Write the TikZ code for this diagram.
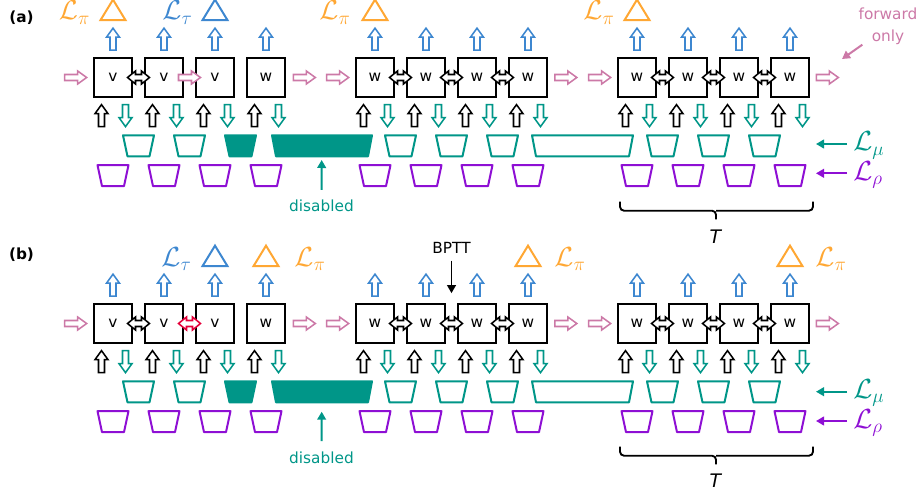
\documentclass[tikz,border=0pt]{standalone}
\usepackage{fontspec}
\setmainfont{DejaVu Sans}
\usetikzlibrary{calc,arrows.meta}
\definecolor{pinkc}{HTML}{CC79A7}
\definecolor{tealc}{HTML}{009688}
\definecolor{bluec}{HTML}{3D87D0}
\definecolor{orangec}{HTML}{FFA733}
\definecolor{purplec}{HTML}{8E0FD4}
\definecolor{redc}{HTML}{E4003A}
\tikzset{
  barrow/.pic={\draw[line width=1.15pt, fill=white, line join=miter] (-11,-3) -- (2,-3) -- (2,-6.5) -- (11,0) -- (2,6.5) -- (2,3) -- (-11,3) -- cycle;},
  darrow/.pic={\draw[line width=1.15pt, fill=white, line join=miter] (-11,0) -- (-3,-6.5) -- (-3,-3) -- (3,-3) -- (3,-6.5) -- (11,0) -- (3,6.5) -- (3,3) -- (-3,3) -- (-3,6.5) -- cycle;},
  trap/.pic={\draw[line width=1.5pt, fill=white, line join=round] (-15.5,-10.5) -- (15.5,-10.5) -- (11,10.5) -- (-11,10.5) -- cycle;},
  ftrap/.pic={\filldraw[line width=1.5pt, line join=round] (-15.5,-10.5) -- (15.5,-10.5) -- (11,10.5) -- (-11,10.5) -- cycle;},
  tri/.pic={\draw[line width=1.5pt] (-12.5,0) -- (12.5,0) -- (0,-20.5) -- cycle;},
  cell/.style={draw, line width=1.5pt, minimum size=29pt, inner sep=0pt},
  txt/.style={font=\fontsize{11.5}{16.5}\selectfont},
  lab/.style={inner sep=0pt, font=\fontsize{19.5}{22}\selectfont},
  tip/.style={-{Triangle[length=6pt,width=6.5pt]}},
}
\begin{document}
\begin{tikzpicture}[x=0.75pt,y=-0.75pt]
\useasboundingbox (0,0) rectangle (922,492);
% boxes
\foreach \p/\dy in {a/0,b/246}{
  \foreach \i/\x/\t in {1/113/v,2/164/v,3/215/v,4/266/w,5/375/w,6/426/w,7/477/w,8/528/w,9/637/w,10/688/w,11/739/w,12/790/w}{
    \node[cell,txt] (\p\i) at (\x,77.5+\dy) {\t};
  }
}
% arrows and trapezoids per panel
\foreach \p in {a,b}{
  \foreach \i in {1,...,12}{
    \pic[color=bluec, rotate=90] at ($(\p\i.north)+(0,-18)$) {barrow};
    \pic[color=black, rotate=90] at ($(\p\i.south)+(-11.5,17.8)$) {barrow};
    \pic[color=tealc, rotate=-90] at ($(\p\i.south)+(12.5,17.8)$) {barrow};
    \pic[color=purplec] at ($(\p\i.south)+(0,77.8)$) {trap};
  }
  \pic[color=pinkc] at ($(\p1.west)+(-17,0)$) {barrow};
  \pic[color=pinkc] at ($(\p4.east)+(18,0)$) {barrow};
  \pic[color=pinkc] at ($(\p5.west)+(-17,0)$) {barrow};
  \pic[color=pinkc] at ($(\p8.east)+(17.5,0)$) {barrow};
  \pic[color=pinkc] at ($(\p9.west)+(-17,0)$) {barrow};
  \pic[color=pinkc] at ($(\p12.east)+(17,0)$) {barrow};
  \foreach \i/\j in {1/2,5/6,6/7,7/8,9/10,10/11,11/12}{
    \pic[color=black] at ($(\p\i.east)!0.5!(\p\j.west)$) {darrow};
  }
  \foreach \i/\j in {1/2,2/3,5/6,6/7,7/8,9/10,10/11,11/12}{
    \pic[color=tealc] at ($(\p\i.south)!0.5!(\p\j.south)+(0,48)$) {trap};
  }
  \pic[color=tealc] at ($(\p3.south)!0.5!(\p4.south)+(0,48)$) {ftrap};
  \filldraw[tealc, line width=1.5pt, line join=round] ($(\p4.south)+(6,37.5)$) -- ($(\p5.south)+(-3,37.5)$) -- ($(\p5.south)+(-7,58.5)$) -- ($(\p4.south)+(10,58.5)$) -- cycle;
  \draw[tealc, line width=1.5pt, line join=round] ($(\p8.south)+(4,37.5)$) -- ($(\p9.south)+(-4,37.5)$) -- ($(\p9.south)+(-8,58.5)$) -- ($(\p8.south)+(8,58.5)$) -- cycle;
}
\pic[color=pinkc] at ($(a2.east)!0.5!(a3.west)$) {barrow};
\pic[color=redc] at ($(b2.east)!0.5!(b3.west)$) {darrow};
% triangles
\foreach \n in {a1,a5,a9,b4,b8,b12}{
  \pic[color=orangec] at ($(\n.north)+(0,-37)$) {tri};
}
\foreach \n in {a3,b3}{
  \pic[color=bluec] at ($(\n.north)+(0,-37)$) {tri};
}
% loss labels on top
\node[lab, text=orangec, anchor=base] (lpa1) at (74.5,20) {$\mathcal{L}_\pi$};
\node[lab, text=bluec, anchor=base] (lta) at (177.5,20) {$\mathcal{L}_\tau$};
\node[lab, text=orangec, anchor=base] (lpa2) at (335,20) {$\mathcal{L}_\pi$};
\node[lab, text=orangec, anchor=base] (lpa3) at (599,20) {$\mathcal{L}_\pi$};
\node[lab, text=bluec, anchor=base] (ltb) at (176.5,266) {$\mathcal{L}_\tau$};
\node[lab, text=orangec, anchor=base] (lpb1) at (310,266) {$\mathcal{L}_\pi$};
\node[lab, text=orangec, anchor=base] (lpb2) at (570,266) {$\mathcal{L}_\pi$};
\node[lab, text=orangec, anchor=base] (lpb3) at (831,266) {$\mathcal{L}_\pi$};
% panel labels
\node[txt, font=\fontsize{11.5}{14}\selectfont\bfseries] (pa) at (21.5,18) {(a)};
\node[txt, font=\fontsize{11.5}{14}\selectfont\bfseries] (pb) at (21.5,255) {(b)};
% right-side losses
\foreach \p/\dy in {a/0,b/247.7}{
  \node[lab, text=tealc, anchor=base west] (mu\p) at (853,151+\dy) {$\mathcal{L}_\mu$};
  \coordinate (mut\p) at (816,144+\dy);
  \draw[tealc, line width=1.5pt, tip] ($(mu\p.west |- mut\p)+(-6,0)$) -- (mut\p);
  \node[lab, text=purplec, anchor=base west] (rho\p) at (853,180.5+\dy) {$\mathcal{L}_\rho$};
  \coordinate (rhot\p) at (816,173.3+\dy);
  \draw[purplec, line width=1.5pt, tip] ($(rho\p.west |- rhot\p)+(-6,0)$) -- (rhot\p);
}
% braces
\foreach \p/\dy/\ty in {a/0/237,b/245/481}{
  \draw[line width=1.4pt, rounded corners=3pt] (620,201.7+\dy) |- (716,210.7+\dy) -- (716,219.3+\dy);
  \draw[line width=1.4pt, rounded corners=3pt] (813,201.7+\dy) |- (716,210.7+\dy);
  \node[font=\fontsize{14}{16}\selectfont] (T\p) at (716,\ty) {\textit{T}};
}
% disabled
\node[txt, text=tealc, inner sep=0pt] (disa) at (321.5,206) {disabled};
\coordinate (dta) at (321.7,160);
\draw[tealc, line width=1.5pt, tip] ([yshift=7.5pt]disa.north) -- (dta);
\node[txt, text=tealc, inner sep=0pt] (disb) at (321.5,457.3) {disabled};
\coordinate (dtb) at (321.7,411.7);
\draw[tealc, line width=1.5pt, tip] ([yshift=7.5pt]disb.north) -- (dtb);
% forward only
\node[txt, text=pinkc, align=center, inner sep=0pt] (fwd) at (888,26) {forward\\only};
\coordinate (fwt) at (842,59);
\draw[pinkc, line width=1.5pt, tip] ($(fwd.south west)+(4,0)$) -- (fwt);
% BPTT
\node[txt, inner sep=0pt] (bptt) at (451.5,248) {BPTT};
\coordinate (bpt) at ($(b6.north east)!0.5!(b7.north west)+(0,-10)$);
\draw[line width=1.3pt, tip] ([yshift=-5pt]bptt.south) -- (bpt);
\end{tikzpicture}
\end{document}
